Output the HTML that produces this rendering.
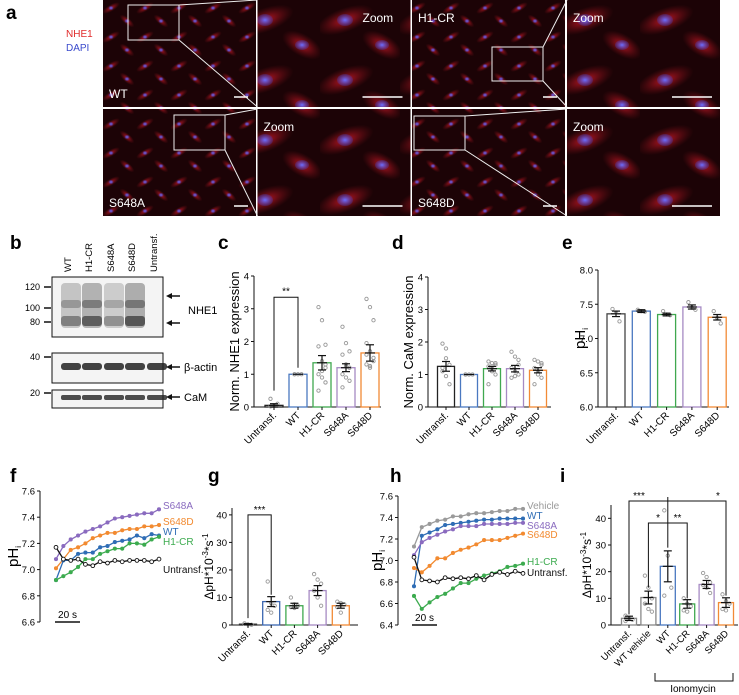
<!DOCTYPE html>
<html><head><meta charset="utf-8">
<style>
html,body{margin:0;padding:0;background:#fff;}
svg{display:block;font-family:"Liberation Sans",sans-serif;}
</style></head>
<body>
<svg id="fig" width="739" height="695" viewBox="0 0 739 695">
<defs>
<radialGradient id="cellR" cx="50%" cy="50%" r="50%"><stop offset="0" stop-color="#d01828" stop-opacity="0.9"/><stop offset="1" stop-color="#801018" stop-opacity="0"/></radialGradient>
<radialGradient id="cellB" cx="50%" cy="50%" r="50%"><stop offset="0" stop-color="#6a70ff"/><stop offset="1" stop-color="#4040c0" stop-opacity="0.3"/></radialGradient>
<pattern id="cellsSmall" width="34" height="29" patternUnits="userSpaceOnUse">
<rect width="34" height="29" fill="#1c0306"/>
<ellipse cx="9" cy="8" rx="10" ry="3.5" fill="url(#cellR)" transform="rotate(-30 9 8)"/>
<ellipse cx="25" cy="21" rx="9" ry="3.5" fill="url(#cellR)" transform="rotate(40 25 21)"/>
<ellipse cx="9" cy="8" rx="2.5" ry="2" fill="url(#cellB)"/>
<ellipse cx="25" cy="21" rx="2.5" ry="2" fill="url(#cellB)"/>
</pattern>
<pattern id="cellsBig" width="80" height="60" patternUnits="userSpaceOnUse">
<rect width="80" height="60" fill="#1c0306"/>
<ellipse cx="25" cy="20" rx="30" ry="12" fill="url(#cellR)" transform="rotate(-20 25 20)"/>
<ellipse cx="62" cy="45" rx="22" ry="11" fill="url(#cellR)" transform="rotate(30 62 45)"/>
<ellipse cx="25" cy="20" rx="8" ry="6" fill="url(#cellB)"/>
<ellipse cx="62" cy="45" rx="7" ry="5" fill="url(#cellB)"/>
</pattern>
</defs>
<g id="panelA"></g>
<g id="panelB"></g>
<g id="charts"></g>
</svg>
<script>
const NS="http://www.w3.org/2000/svg";
function el(tag,attrs,parent,text){const e=document.createElementNS(NS,tag);for(const k in attrs)e.setAttribute(k,attrs[k]);if(text!==undefined)e.textContent=text;(parent||document.getElementById('charts')).appendChild(e);return e;}

// ---------- DATA ----------
const barCats5=["Untransf.","WT","H1-CR","S648A","S648D"];
const colors5=["#222222","#4a78c0","#3fa84f","#a68ac4","#f28a36"];
const cVals=[0.05,1.0,1.35,1.2,1.65];
const cSems=[0.05,0.0,0.22,0.12,0.25];
const cPts=[[0.02,0.05,0.1,0.25,0.03],[1,1,1,1],[3.05,2.65,1.9,1.85,1.4,1.3,1.0,0.9,0.75,0.5,1.1,1.2],[2.45,1.95,1.7,1.6,1.25,1.2,1.0,0.9,0.8,0.6,1.3],[3.3,3.05,2.65,1.95,1.7,1.5,1.3,1.2,1.4,1.6,1.25]];
const dVals=[1.25,1.0,1.18,1.18,1.13];
const dSems=[0.15,0.0,0.07,0.1,0.08];
const dPts=[[1.95,1.8,1.3,1.1,0.95,0.7,1.2,1.5],[1,1,1,1],[1.4,1.35,1.3,1.25,1.1,1.0,0.7,1.2,1.35],[1.7,1.55,1.45,1.2,1.1,1.0,0.9,0.95,1.3],[1.45,1.4,1.3,1.2,1.0,0.9,0.7,1.1,1.35]];
const eVals=[7.36,7.40,7.35,7.46,7.31];
const eSems=[0.04,0.02,0.02,0.03,0.04];
const ePts=[[7.43,7.38,7.25],[7.42,7.40,7.39],[7.40,7.35,7.34],[7.53,7.45,7.42],[7.40,7.30,7.22]];
const gVals=[0.3,8.5,7.0,12.5,7.0];
const gSems=[0.2,1.8,0.9,1.8,0.9];
const gPts=[[0.5,0.2,0.1,0.6],[15.8,8.0,7.0,5.5,4.5],[10.0,7.5,7.0,6.5,6.2],[18.5,16.5,15.0,12.5,10.0,7.0],[8.5,8.0,7.5,6.5,4.5]];
const iCats=["Untransf.","WT vehicle","WT","H1-CR","S648A","S648D"];
const iColors=["#888888","#888888","#4a78c0","#3fa84f","#a68ac4","#f28a36"];
const iVals=[2.5,10.3,22,7.9,15.2,8.4];
const iSems=[0.8,2.4,5.8,1.6,1.5,1.8];
const iPts=[[3.5,2.5,2.0,1.5],[18.5,14.0,10.0,8.0,6.0,5.0],[43,26,14,11],[10,8,7,5.5,5.0],[19.5,18,16,15,14,12],[11.5,9,8,6,5.5]];

const time15=[0,1,2,3,4,5,6,7,8,9,10,11,12,13,14];
const fNames=["S648A","S648D","WT","H1-CR","Untransf."];
const fColors=["#8a6bbf","#f28a30","#2f6db5","#3cab4f","#111111"];
const fS648A=[7.08,7.18,7.23,7.26,7.29,7.31,7.33,7.36,7.39,7.40,7.41,7.42,7.43,7.43,7.46];
const fS648D=[7.01,7.08,7.15,7.17,7.20,7.24,7.26,7.28,7.28,7.30,7.31,7.31,7.33,7.33,7.34];
const fWT=[6.92,7.07,7.07,7.12,7.13,7.13,7.17,7.18,7.21,7.22,7.23,7.26,7.24,7.27,7.26];
const fH1CR=[6.92,6.95,6.98,7.02,7.08,7.08,7.12,7.14,7.16,7.16,7.20,7.20,7.19,7.23,7.25];
const fUntr=[7.17,7.08,7.07,7.08,7.04,7.03,7.06,7.05,7.07,7.06,7.07,7.07,7.07,7.06,7.08];
const hNames=["Vehicle","WT","S648A","S648D","H1-CR","Untransf."];
const hColors=["#9a9a9a","#2f6db5","#8a6bbf","#f28a30","#3cab4f","#111111"];
const hVehicle=[7.13,7.31,7.34,7.37,7.38,7.41,7.41,7.43,7.44,7.44,7.45,7.46,7.46,7.48,7.48];
const hWT=[6.76,7.23,7.26,7.29,7.33,7.34,7.35,7.36,7.37,7.38,7.38,7.39,7.39,7.39,7.39];
const hS648A=[7.05,7.17,7.21,7.24,7.27,7.29,7.32,7.32,7.32,7.34,7.34,7.34,7.34,7.35,7.35];
const hS648D=[6.93,6.89,6.95,7.02,7.02,7.07,7.10,7.12,7.15,7.19,7.19,7.19,7.21,7.23,7.25];
const hH1CR=[6.67,6.55,6.61,6.66,6.69,6.74,6.79,6.79,6.83,6.86,6.88,6.90,6.94,6.95,6.97];
const hUntr=[7.03,6.82,6.81,6.80,6.84,6.83,6.84,6.83,6.86,6.82,6.87,6.89,6.87,6.90,6.88];

// ---------- PANEL A ----------
(function(){
const g=document.getElementById('panelA');
const xs=[103,257.5,412,567], ys=[0,109], w=153, h=107;
const names=[["WT",null,"H1-CR",null],["S648A",null,"S648D",null]];
for(let r=0;r<2;r++)for(let c=0;c<4;c++){
 const big=c%2===1;
 const rc=el('rect',{x:xs[c],y:ys[r],width:w,height:h,fill:big?'url(#cellsBig)':'url(#cellsSmall)'},g);
 
 
 const bx=xs[c]+w-(big?48:22), by=ys[r]+h-10;
 el('line',{x1:bx,y1:by,x2:xs[c]+w-8,y2:by,stroke:'#fff','stroke-width':1.5},g);
 if(big){const zx=(r===0&&c===1)?xs[c]+w-48:xs[c]+6;
  const t=el('text',{x:zx,y:ys[r]+22,fill:'#fff','font-size':12},g,'Zoom');
  }
 else{const t=el('text',{x:xs[c]+6,y:(c===2&&r===0)?ys[r]+22:ys[r]+98,fill:'#fff','font-size':12},g,names[r][c]);
  }
}
const boxes=[[128,5,179,40,0],[492,47,543,81,2],[174,115,225,150,0],[414,116,465,150,2]];
const rowOf=[0,0,1,1];
boxes.forEach((b,i)=>{const r=rowOf[i];const zx=xs[b[4]+1];
 el('rect',{x:b[0],y:b[1],width:b[2]-b[0],height:b[3]-b[1],fill:'none',stroke:'#eee','stroke-width':1},g);
 el('line',{x1:b[2],y1:b[1],x2:zx,y2:ys[r],stroke:'#eee','stroke-width':1},g);
 el('line',{x1:b[2],y1:b[3],x2:zx,y2:ys[r]+h,stroke:'#eee','stroke-width':1},g);});
const la=el('text',{x:6,y:19,'font-size':19,'font-weight':'bold'},g,'a');
el('text',{x:66,y:37,'font-size':10,fill:'#e02a2a'},g,'NHE1');
el('text',{x:66,y:51,'font-size':10,fill:'#3a4acc'},g,'DAPI');
})();

// ---------- PANEL B ----------
(function(){
const g=document.getElementById('panelB');
const lb=el('text',{x:10,y:249,'font-size':19,'font-weight':'bold'},g,'b');
const lanes=["WT","H1-CR","S648A","S648D","Untransf."], lx=[71,92,114,135,157];
lanes.forEach((n,i)=>{const t=el('text',{x:lx[i],y:272,'font-size':9.5,transform:`rotate(-90 ${lx[i]} 272)`},g,n);});
const boxes=[[277,337],[353,383],[390,408]];
boxes.forEach(b=>el('rect',{x:52,y:b[0],width:111,height:b[1]-b[0],fill:'#f4f4f4',stroke:'#111','stroke-width':1},g));
const inten=[0.55,0.75,0.45,0.8,0];
lx.forEach((x,i)=>{if(!inten[i])return;
 el('rect',{x:x-10,y:283,width:20,height:45,fill:'#444',opacity:inten[i]*0.5,rx:4},g);
 el('rect',{x:x-10,y:300,width:20,height:8,fill:'#222',opacity:inten[i]*0.5,rx:3},g);
 el('rect',{x:x-10,y:316,width:20,height:10,fill:'#111',opacity:inten[i]*0.7,rx:3},g);});
lx.forEach((x,i)=>{el('rect',{x:x-10,y:363,width:20,height:7,fill:'#222',opacity:0.85,rx:3},g);
 el('rect',{x:x-10,y:395,width:20,height:5,fill:'#222',opacity:0.8,rx:2},g);});
[[287,"120"],[308,"100"],[322,"80"],[357,"40"],[393,"20"]].forEach(m=>{el('text',{x:40,y:m[0]+3,'font-size':9,'text-anchor':'end'},g,m[1]);el('line',{x1:44,y1:m[0],x2:51,y2:m[0],stroke:'#111','stroke-width':1.5},g);});
function arrow(y){el('line',{x1:170,y1:y,x2:180,y2:y,stroke:'#111','stroke-width':1.5},g);el('polygon',{points:`166,${y} 172,${y-3} 172,${y+3}`,fill:'#111'},g);}
arrow(296);arrow(323);arrow(367);arrow(397);
el('text',{x:188,y:314,'font-size':11},g,'NHE1');
el('text',{x:184,y:371,'font-size':11},g,'β-actin');
el('text',{x:184,y:401,'font-size':11},g,'CaM');
})();

// ---------- BAR CHART HELPER ----------
function barChart(cfg){
 const g=el('g',{});
 const Y=v=>cfg.y0-(v-cfg.vmin)/(cfg.vmax-cfg.vmin)*(cfg.y0-cfg.y1);
 el('line',{x1:cfg.ax,y1:cfg.y1,x2:cfg.ax,y2:cfg.y0,stroke:'#111','stroke-width':1},g);
 el('line',{x1:cfg.ax,y1:cfg.y0,x2:cfg.axEnd,y2:cfg.y0,stroke:'#111','stroke-width':1},g);
 cfg.ticks.forEach(t=>{el('line',{x1:cfg.ax-3,y1:Y(t),x2:cfg.ax,y2:Y(t),stroke:'#111'},g);
  el('text',{x:cfg.ax-5,y:Y(t)+3.5,'font-size':cfg.tfs||9.5,'text-anchor':'end'},g,cfg.tickFmt?cfg.tickFmt(t):t);});
 cfg.cats.forEach((c,i)=>{const cx=cfg.x0+i*cfg.step;const v=cfg.vals[i];
  const b=el('rect',{x:cx-cfg.bw/2,y:Y(v),width:cfg.bw,height:cfg.y0-Y(v),fill:'none',stroke:cfg.colors[i],'stroke-width':1.3},g);
  
  
  (cfg.pts[i]||[]).forEach((p,j)=>{const c2=el('circle',{cx:cx+((j%3)-1)*3.5,cy:Y(p),r:1.7,fill:'none',stroke:'#999','stroke-width':0.9},g);
   });
  const s=cfg.sems[i];
  if(s>0){el('line',{x1:cx,y1:Y(v+s),x2:cx,y2:Y(v-s),stroke:'#111','stroke-width':1.2},g);
   [v+s,v-s].forEach(q=>el('line',{x1:cx-4,y1:Y(q),x2:cx+4,y2:Y(q),stroke:'#111','stroke-width':1.2},g));}
  el('line',{x1:cx-5,y1:Y(v),x2:cx+5,y2:Y(v),stroke:'#111','stroke-width':1.2},g);
  el('line',{x1:cx,y1:cfg.y0,x2:cx,y2:cfg.y0+3,stroke:'#111'},g);
  const tx=cx+3,ty=cfg.y0+9;
  const t=el('text',{x:tx,y:ty,'font-size':cfg.xfs||10,'text-anchor':'end',transform:`rotate(-45 ${tx} ${ty})`},g,c);
  
 });
 const ty=(cfg.y0+cfg.y1)/2;
 const yt=el('text',{x:cfg.titleX,y:ty,'font-size':cfg.titleFs||13,'text-anchor':'middle',transform:`rotate(-90 ${cfg.titleX} ${ty})`},g);
 
 yt.innerHTML=cfg.title;
 const pl=el('text',{x:cfg.lx,y:cfg.ly,'font-size':19,'font-weight':'bold'},g,cfg.letter);
 
 return {g,Y,X:i=>cfg.x0+i*cfg.step};
}

const cC=barChart({name:'panel-c-nhe1-expression',letter:'c',lx:218,ly:249,ax:254,axEnd:381,y0:407,y1:276,vmin:0,vmax:4,ticks:[0,1,2,3,4],x0:274,step:24,bw:18,cats:barCats5,vals:cVals,sems:cSems,pts:cPts,colors:colors5,title:'Norm. NHE1 expression',titleX:239});
(function(){const g=cC.g;const y=cC.Y(3.35);
 el('path',{d:`M${cC.X(0)} ${cC.Y(0.5)} V${y} H${cC.X(1)} V${cC.Y(1.2)}`,fill:'none',stroke:'#111'},g);
 el('text',{x:(cC.X(0)+cC.X(1))/2,y:y-3,'font-size':10,'text-anchor':'middle'},g,'**');})();

barChart({name:'panel-d-cam-expression',letter:'d',lx:392,ly:249,ax:428,axEnd:551,y0:407,y1:277,vmin:0,vmax:4,ticks:[0,1,2,3,4],x0:446,step:23,bw:17,cats:barCats5,vals:dVals,sems:dSems,pts:dPts,colors:colors5,title:'Norm. CaM expression',titleX:413});

barChart({name:'panel-e-phi',letter:'e',lx:562,ly:249,ax:598,axEnd:729,y0:407,y1:270,vmin:6,vmax:8,ticks:[6.0,6.5,7.0,7.5,8.0],tickFmt:t=>t.toFixed(1),x0:616,step:25.3,bw:18,cats:barCats5,vals:eVals,sems:eSems,pts:ePts,colors:["#444","#4a78c0","#3fa84f","#a68ac4","#f28a36"],title:'pH<tspan font-size="8" dy="3">i</tspan>',titleX:585,titleFs:15});

const gC=barChart({name:'panel-g-rate',letter:'g',lx:208,ly:482,ax:232,axEnd:358,y0:625,y1:508,vmin:0,vmax:42.5,ticks:[0,10,20,30,40],x0:248,step:23.2,bw:17,cats:barCats5,vals:gVals,sems:gSems,pts:gPts,colors:["#333","#3a66b0","#3fa84f","#a68ac4","#f28a36"],title:'ΔpH*10<tspan font-size="8" dy="-5">-3</tspan><tspan dy="5">*s</tspan><tspan font-size="8" dy="-5">-1</tspan>',titleX:213,titleFs:12});
(function(){const g=gC.g;const y=gC.Y(40);
 el('path',{d:`M${gC.X(0)} ${gC.Y(2.5)} V${y} H${gC.X(1)} V${gC.Y(11)}`,fill:'none',stroke:'#111'},g);
 el('text',{x:(gC.X(0)+gC.X(1))/2,y:y-2,'font-size':10,'text-anchor':'middle'},g,'***');})();

const iC=barChart({name:'panel-i-rate-ionomycin',letter:'i',lx:560,ly:482,ax:611,axEnd:738,y0:625,y1:505,vmin:0,vmax:45,ticks:[0,10,20,30,40],x0:629,step:19.4,bw:15,cats:iCats,vals:iVals,sems:iSems,pts:iPts,colors:iColors,title:'ΔpH*10<tspan font-size="8" dy="-5">-3</tspan><tspan dy="5">*s</tspan><tspan font-size="8" dy="-5">-1</tspan>',titleX:591,titleFs:12,xfs:9.5});
(function(){const g=iC.g;const X=iC.X,Y=iC.Y;const yt=501,ym=523;
 el('path',{d:`M${X(0)} ${Y(4)} V${yt} H${X(5)} V${Y(11)}`,fill:'none',stroke:'#111'},g);
 el('line',{x1:X(2),y1:yt-4,x2:X(2),y2:Y(29),stroke:'#111'},g);
 el('path',{d:`M${X(1)} ${Y(14)} V${ym} H${X(3)} V${Y(10)}`,fill:'none',stroke:'#111'},g);
 el('text',{x:X(0)+10,y:yt-2,'font-size':10,'text-anchor':'middle'},g,'***');
 el('text',{x:X(5)-8,y:yt-2,'font-size':10,'text-anchor':'middle'},g,'*');
 el('text',{x:(X(1)+X(2))/2,y:ym-2,'font-size':10,'text-anchor':'middle'},g,'*');
 el('text',{x:(X(2)+X(3))/2,y:ym-2,'font-size':10,'text-anchor':'middle'},g,'**');
 el('path',{d:`M655 673 V681 H733 V673`,fill:'none',stroke:'#111'},g);
 const t=el('text',{x:693,y:692,'font-size':10,'text-anchor':'middle'},g,'Ionomycin');
 })();

// ---------- LINE CHART HELPER ----------
function lineChart(cfg){
 const g=el('g',{});
 const Y=v=>cfg.y0-(v-cfg.vmin)/(cfg.vmax-cfg.vmin)*(cfg.y0-cfg.y1);
 const X=t=>cfg.xa+t/(time15.length-1)*(cfg.xb-cfg.xa);
 el('line',{x1:cfg.ax,y1:cfg.y1,x2:cfg.ax,y2:cfg.y0,stroke:'#111'},g);
 cfg.ticks.forEach(t=>{el('line',{x1:cfg.ax-3,y1:Y(t),x2:cfg.ax,y2:Y(t),stroke:'#111'},g);
  el('text',{x:cfg.ax-5,y:Y(t)+3.5,'font-size':9.5,'text-anchor':'end'},g,t.toFixed(1));});
 cfg.series.forEach((s,k)=>{const col=cfg.colors[k];
  const d=s.map((v,i)=>(i?'L':'M')+X(time15[i]).toFixed(1)+' '+Y(v).toFixed(1)).join(' ');
  const p=el('path',{d,fill:'none',stroke:col,'stroke-width':1.3},g);
  
  
  s.forEach((v,i)=>{const open=cfg.names[k]==="Untransf.";
   el('circle',{cx:X(time15[i]),cy:Y(v),r:open?1.9:1.6,fill:open?'#fff':col,stroke:col,'stroke-width':0.9},g);});
  const lt=el('text',{x:cfg.labX,y:cfg.labY[k],'font-size':10,fill:cfg.names[k]==="Untransf."?'#111':col},g,cfg.names[k]);
  
 });
 el('line',{x1:cfg.sbx,y1:cfg.y0,x2:cfg.sbx+cfg.sbw,y2:cfg.y0,stroke:'#111','stroke-width':1.6},g);
 el('text',{x:cfg.sbx+cfg.sbw/2,y:cfg.y0-4,'font-size':10,'text-anchor':'middle'},g,'20 s');
 const ty=(cfg.y0+cfg.y1)/2;
 const yt=el('text',{x:cfg.titleX,y:ty,'font-size':15,'text-anchor':'middle',transform:`rotate(-90 ${cfg.titleX} ${ty})`},g);
 yt.innerHTML='pH<tspan font-size="8" dy="3">i</tspan>';
 
 const pl=el('text',{x:cfg.lx,y:cfg.ly,'font-size':19,'font-weight':'bold'},g,cfg.letter);
 
}
lineChart({name:'panel-f-phi-recovery',letter:'f',lx:10,ly:482,ax:40,y0:622,y1:491,vmin:6.6,vmax:7.6,ticks:[6.6,6.8,7.0,7.2,7.4,7.6],xa:56,xb:159,
 series:[fS648A,fS648D,fWT,fH1CR,fUntr],names:fNames,colors:fColors,labX:163,labY:[509,525,535,545,573],sbx:55,sbw:25,titleX:18});
lineChart({name:'panel-h-phi-ionomycin',letter:'h',lx:390,ly:482,ax:398,y0:625,y1:496,vmin:6.4,vmax:7.6,ticks:[6.4,6.6,6.8,7.0,7.2,7.4,7.6],xa:414,xb:523,
 series:[hVehicle,hWT,hS648A,hS648D,hH1CR,hUntr],names:hNames,colors:hColors,labX:527,labY:[509,519,529,538,565,576],sbx:412,sbw:25,titleX:382});
</script>
</body></html>
